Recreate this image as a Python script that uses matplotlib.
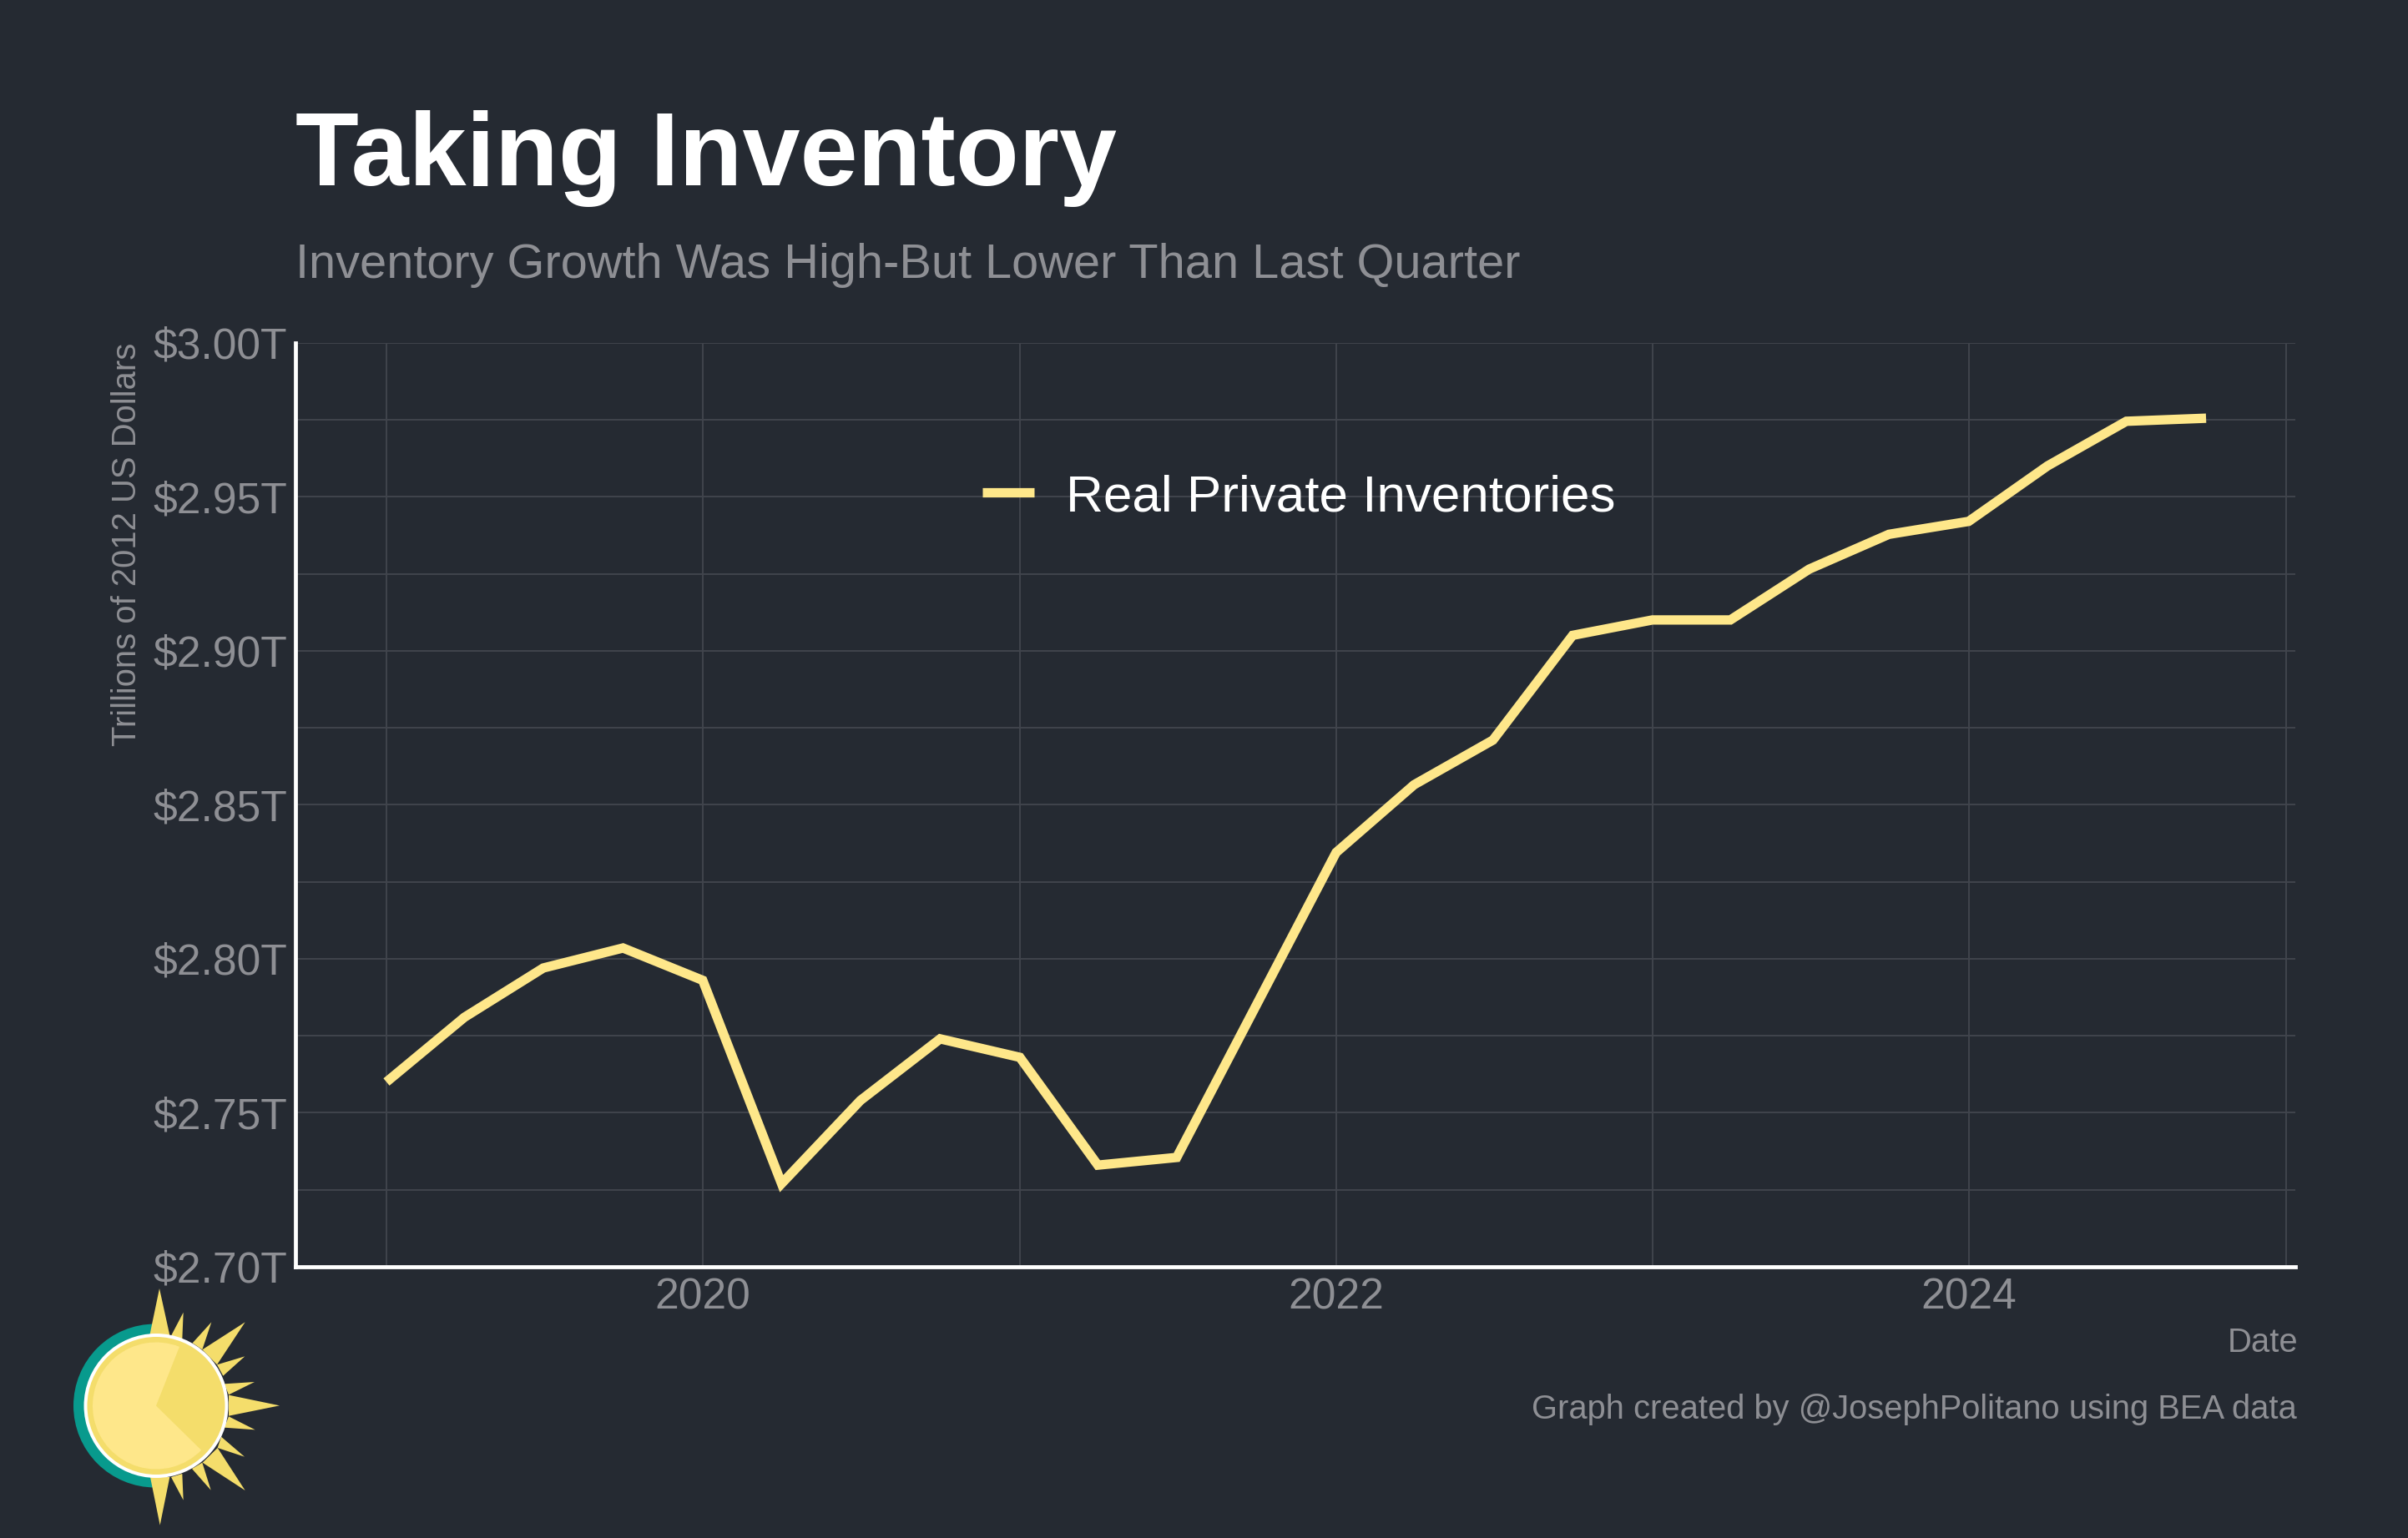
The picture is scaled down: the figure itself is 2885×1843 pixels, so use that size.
"""Real private inventories, dark theme, with the sun logo in the corner."""
import matplotlib
matplotlib.use("Agg")
import matplotlib.dates as mdates
import matplotlib.pyplot as plt
import pandas as pd
from matplotlib.patches import Circle, Polygon, Wedge
from matplotlib.ticker import FuncFormatter, MultipleLocator

plt.rcParams["font.family"] = ["Liberation Sans", "DejaVu Sans"]

BG = "#252a32"
GREY = "#8e8f94"
GRID = "#41454d"
YELLOW = "#fee78a"
GOLD = "#f4dd6b"
TEAL = "#089a8d"

W, H, DPI = 2886, 1843, 300

quarters = pd.date_range("2019-01-01", periods=24, freq="QS")
inventories = [
    2.760, 2.781, 2.797, 2.8035, 2.793, 2.727, 2.754, 2.774,
    2.768, 2.733, 2.7355, 2.785, 2.8345, 2.8565, 2.871, 2.905,
    2.910, 2.910, 2.9265, 2.9378, 2.942, 2.960, 2.9745, 2.9755,
]

# logo spikes as (tip, base, base), in pixels of the 3x crop of the logo
spikes = [
    ((573, 192), (538, 360), (610, 360)),
    ((659, 278), (615, 362), (655, 375)),
    ((760, 313), (692, 388), (727, 412)),
    ((881, 313), (727, 412), (780, 466)),
    ((880, 436), (780, 466), (802, 506)),
    ((915, 528), (806, 535), (822, 574)),
    ((1005, 613), (822, 575), (822, 650)),
    ((917, 700), (822, 652), (806, 692)),
    ((879, 797), (782, 765), (795, 725)),
    ((881, 918), (728, 818), (782, 765)),
    ((758, 917), (690, 840), (727, 818)),
    ((659, 953), (655, 858), (615, 870)),
    ((575, 1043), (540, 870), (610, 870)),
]


def draw_logo(fig):
    # overlay axes in image pixels
    ax = fig.add_axes([0, 0, 1, 1], zorder=5)
    ax.set_xlim(0, W)
    ax.set_ylim(H, 0)
    ax.axis("off")
    ax.patch.set_alpha(0)
    cx, cy = 187, 1684.5
    ax.add_patch(Wedge((cx - 1, cy), 98, 90, 270, color=TEAL, lw=0))
    for spike in spikes:
        pts = [(x / 3, 1480 + y / 3) for x, y in spike]
        ax.add_patch(Polygon(pts, closed=True, color=GOLD, lw=0))
    ax.add_patch(Circle((cx, cy), 86.5, color="white", lw=0))
    ax.add_patch(Circle((cx, cy), 82.5, color=GOLD, lw=0))
    # y axis is flipped here, so angles run clockwise
    ax.add_patch(Wedge((cx, cy), 76, 44.5, 291.6, color=YELLOW, lw=0))


def main():
    fig = plt.figure(figsize=(W / DPI, H / DPI), dpi=DPI, facecolor=BG)
    left, right, top, bottom = 354, 2750, 410.7, 1518
    ax = fig.add_axes([left / W, 1 - bottom / H, (right - left) / W, (bottom - top) / H])
    ax.set_facecolor(BG)

    ax.plot(quarters, inventories, color=YELLOW, lw=2.7, solid_joinstyle="miter",
            solid_capstyle="butt", label="Real Private Inventories", zorder=3)

    ax.set_xlim(pd.Timestamp("2018-09-18"), pd.Timestamp("2025-01-12"))
    ax.set_ylim(2.70, 3.00)
    ax.xaxis.set_major_locator(mdates.YearLocator(2))
    ax.xaxis.set_major_formatter(mdates.DateFormatter("%Y"))
    ax.xaxis.set_minor_locator(mdates.YearLocator(1))
    ax.yaxis.set_major_locator(MultipleLocator(0.05))
    ax.yaxis.set_minor_locator(MultipleLocator(0.025))
    ax.yaxis.set_major_formatter(FuncFormatter(lambda v, _: f"${v:.2f}T"))
    ax.grid(which="both", color=GRID, lw=0.45)
    ax.set_axisbelow(True)
    ax.tick_params(which="both", length=0, labelsize=12.4, labelcolor=GREY)
    ax.tick_params(axis="y", pad=2.4)
    ax.tick_params(axis="x", pad=3.0)

    for side in ["top", "right"]:
        ax.spines[side].set_visible(False)
    for side in ["left", "bottom"]:
        ax.spines[side].set_color("white")
        ax.spines[side].set_linewidth(1.15)

    ax.set_xlabel("Date", loc="right", color=GREY, fontsize=9.6, labelpad=2.4)
    ax.xaxis.label.set_x(1.0015)
    ax.set_ylabel("Trillions of 2012 US Dollars", loc="top", color=GREY, fontsize=9.6, labelpad=3)

    leg = ax.legend(loc="center left", bbox_to_anchor=(0.32, 0.832), frameon=False,
                    fontsize=14.9, handlelength=1.0, handletextpad=0.62, labelcolor="white")
    leg.get_lines()[0].set_linewidth(2.7)

    fig.text(left / W, 1 - 222 / H, "Taking Inventory", color="white", fontsize=29.8,
             fontweight="bold", ha="left", va="baseline")
    fig.text(left / W, 1 - 333 / H, "Inventory Growth Was High-But Lower Than Last Quarter",
             color=GREY, fontsize=13.87, ha="left", va="baseline")
    fig.text((right + 2) / W, 1 - 1700 / H, "Graph created by @JosephPolitano using BEA data",
             color=GREY, fontsize=9.58, ha="right", va="baseline")

    draw_logo(fig)
    fig.savefig("out.png", dpi=DPI, facecolor=BG)


if __name__ == "__main__":
    main()
